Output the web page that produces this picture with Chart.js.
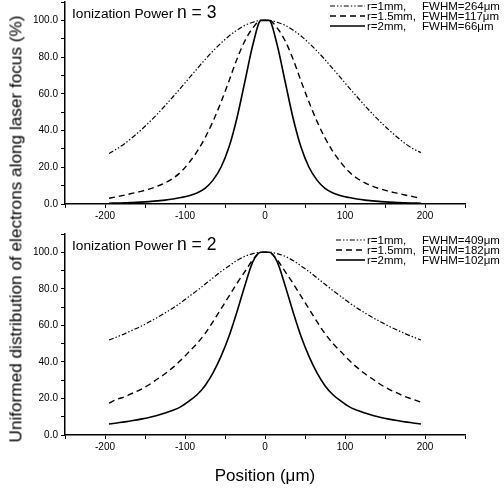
<!DOCTYPE html>
<html>
<head>
<meta charset="utf-8">
<script src="https://cdn.jsdelivr.net/npm/chart.js@4/dist/chart.umd.min.js"></script>
<style>
  html, body { margin:0; padding:0; background:#fff; }
  #wrap { position:relative; width:504px; height:491px; background:#fff; overflow:hidden;
          font-family:"Liberation Sans", Arial, sans-serif; color:#000; }
  .box { position:absolute; left:0; width:504px; }
  .ttl { position:absolute; white-space:nowrap; font-size:13.7px; line-height:1; }
  .ttl span { font-size:17.5px; }
  #ytitle { position:absolute; left:16px; top:229px; white-space:nowrap; font-size:17.2px;
            transform:translate(-50%,-50%) rotate(-90deg); line-height:1; }
  #xtitle { position:absolute; left:265px; top:475px; white-space:nowrap; font-size:17px;
            transform:translate(-50%,-50%); line-height:1; }
</style>
</head>
<body>
<div id="wrap">
  <div class="box" style="top:0;height:230px"><canvas id="c1"></canvas></div>
  <div class="box" style="top:230px;height:261px"><canvas id="c2"></canvas></div>
  <div class="ttl" style="left:72px;top:4px">Ionization Power <span>n = 3</span></div>
  <div class="ttl" style="left:72px;top:236px">Ionization Power <span>n = 2</span></div>
  <div id="ytitle">Uniformed distribution of electrons along laser focus (%)</div>
  <div id="xtitle">Position (μm)</div>
</div>
<script>
// Positions along the laser focus (μm)
const positions = [-195,-185,-175,-165,-155,-145,-135,-125,-115,-105,-95,-85,-75,-65,-55,-45,-35,-25,-15,-5,
                   5,15,25,35,45,55,65,75,85,95,105,115,125,135,145,155,165,175,185,195];

// Ionization power n = 3
const n3_r1mm   = [27.5,30.1,33.0,36.5,40.3,44.4,48.8,53.5,58.4,63.4,68.5,73.6,78.6,83.3,87.6,91.5,94.7,97.3,99.0,100,
                   100,99.0,97.3,94.7,91.5,87.6,83.3,78.6,73.6,68.5,63.4,58.4,53.5,48.8,44.4,40.3,36.5,33.0,30.1,28.0];
const n3_r15mm  = [3.1,4.0,4.9,5.9,6.9,8.1,9.6,11.5,14.0,17.5,22.5,28.5,36.0,45.0,55.5,67.0,79.0,89.0,96.0,100,
                   100,96.0,89.0,79.0,67.0,55.5,45.0,36.0,28.5,22.5,17.5,14.0,11.5,9.6,8.1,6.9,5.9,4.9,4.0,3.1];
const n3_r2mm   = [0.4,0.5,0.6,0.8,1.0,1.3,1.7,2.1,2.7,3.5,4.5,6.0,8.5,13.0,20.0,31.0,47.0,67.0,87.0,100,
                   100,87.0,67.0,47.0,31.0,20.0,13.0,8.5,6.0,4.5,3.5,2.7,2.1,1.7,1.3,1.0,0.8,0.6,0.5,0.4];

// Ionization power n = 2
const n2_r1mm   = [52.0,53.7,55.5,57.5,59.5,61.8,64.2,66.8,69.5,72.5,75.8,79.0,82.5,86.0,89.5,92.5,95.5,97.8,99.3,100,
                   100,99.3,97.8,95.5,92.5,89.5,86.0,82.5,79.0,75.8,72.5,69.5,66.8,64.2,61.8,59.5,57.5,55.5,53.7,52.0];
const n2_r15mm  = [17.5,19.5,21.0,23.0,25.0,27.5,30.5,33.5,37.0,41.0,45.5,50.0,55.5,62.0,69.0,76.0,83.0,89.5,96.0,100,
                   100,96.0,89.5,83.0,76.0,69.0,62.0,55.5,50.0,45.5,41.0,37.0,33.5,30.5,27.5,25.0,23.0,21.0,19.5,18.0];
const n2_r2mm   = [6.0,6.6,7.2,7.9,8.7,9.6,10.7,12.0,13.5,15.5,18.5,22.0,27.0,34.0,43.0,54.0,67.5,82.0,95.0,100,
                   100,95.0,82.0,67.5,54.0,43.0,34.0,27.0,22.0,18.5,15.5,13.5,12.0,10.7,9.6,8.7,7.9,7.2,6.6,6.0];

const radiusLabels = ['r=1mm,', 'r=1.5mm,', 'r=2mm,'];
const fwhmN3 = ['FWHM=264μm', 'FWHM=117μm', 'FWHM=66μm'];
const fwhmN2 = ['FWHM=409μm', 'FWHM=182μm', 'FWHM=102μm'];

const xTickLabels = [-200, -100, 0, 100, 200];
const yTickLabels = [0, 20, 40, 60, 80, 100];

const FONT = '"Liberation Sans", Arial, sans-serif';
const styles = [
  { dash:[5,2,1.4,2,1.4,2], width:1.2 },
  { dash:[6,4], width:1.4 },
  { dash:[], width:1.6 }
];

function toPts(vals) { return positions.map((x, i) => ({ x, y: vals[i] })); }

const legendPlugin = {
  id: 'seriesLegend',
  afterDraw(chart, args, o) {
    const ctx = chart.ctx;
    ctx.save();
    chart.data.datasets.forEach((ds, i) => {
      const y = o.y0 + i * o.dy;
      ctx.strokeStyle = '#000';
      ctx.lineWidth = ds.borderWidth;
      ctx.setLineDash(ds.borderDash || []);
      ctx.beginPath();
      ctx.moveTo(o.lx0, y);
      ctx.lineTo(o.lx1, y);
      ctx.stroke();
      ctx.setLineDash([]);
      ctx.fillStyle = '#000';
      ctx.font = o.size + 'px ' + FONT;
      ctx.textBaseline = 'middle';
      ctx.textAlign = 'left';
      ctx.fillText(ds.rLabel, o.tx1, y + 0.5);
      ctx.fillText(ds.fLabel, o.tx2, y + 0.5);
    });
    ctx.restore();
  }
};

function makeChart(id, series, fwhm, pad, xH, leg) {
  const datasets = series.map((vals, i) => ({
    label: radiusLabels[i] + ' ' + fwhm[i],
    rLabel: radiusLabels[i],
    fLabel: fwhm[i],
    data: toPts(vals),
    borderColor: '#000',
    backgroundColor: '#000',
    borderWidth: styles[i].width,
    borderDash: styles[i].dash,
    pointRadius: 0,
    fill: false,
    cubicInterpolationMode: 'monotone'
  }));
  return new Chart(document.getElementById(id), {
    type: 'line',
    data: { datasets },
    plugins: [legendPlugin],
    options: {
      responsive: true,
      maintainAspectRatio: false,
      animation: false,
      devicePixelRatio: 1,
      layout: { padding: { left: 0, right: 39, top: pad, bottom: 0 } },
      plugins: {
        legend: { display: false },
        tooltip: { enabled: false },
        title: { display: false },
        seriesLegend: leg
      },
      scales: {
        x: {
          type: 'linear', min: -250, max: 250,
          afterFit: s => { s.height = xH; s.paddingLeft = 0; s.paddingRight = 0; },
          ticks: {
            stepSize: 50, autoSkip: false, maxRotation: 0, padding: 2,
            color: '#000', font: { size: 10, family: FONT },
            callback: v => xTickLabels.includes(v) ? String(v) : ''
          },
          grid: { display: true, drawOnChartArea: false, drawTicks: true, tickLength: 4, color: '#000', tickWidth: 1 },
          border: { display: true, color: '#000', width: 1.5 }
        },
        y: {
          min: 0, max: 110,
          afterFit: s => { s.width = 65; s.paddingTop = 0; s.paddingBottom = 0; },
          ticks: {
            stepSize: 10, autoSkip: false, padding: 3,
            color: '#000', font: { size: 10, family: FONT },
            callback: v => yTickLabels.includes(v) ? v.toFixed(1) : ''
          },
          grid: { display: true, drawOnChartArea: false, drawTicks: true, tickLength: 4, color: '#000', tickWidth: 1 },
          border: { display: true, color: '#000', width: 1.5 }
        }
      }
    }
  });
}

makeChart('c1', [n3_r1mm, n3_r15mm, n3_r2mm], fwhmN3, 2, 26,
  { lx0: 330, lx1: 365, tx1: 367, tx2: 422, y0: 6, dy: 10, size: 11.5 });
makeChart('c2', [n2_r1mm, n2_r15mm, n2_r2mm], fwhmN2, 4, 56,
  { lx0: 336, lx1: 365, tx1: 367, tx2: 422, y0: 10, dy: 10, size: 11.5 });
</script>
</body>
</html>
